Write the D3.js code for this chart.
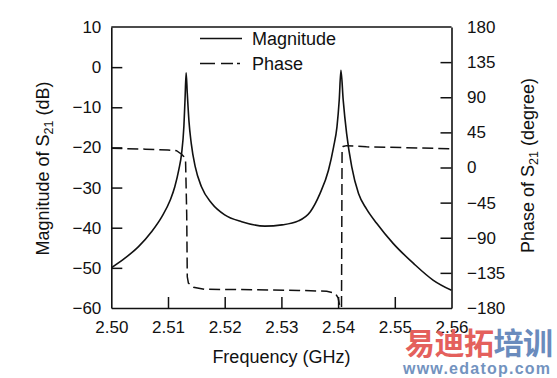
<!DOCTYPE html>
<html>
<head>
  <meta charset="utf-8">
  <title>S21 Magnitude and Phase</title>
  <script src="https://d3js.org/d3.v7.min.js"></script>
  <style>
    body { margin: 0; background: #fff; }
    text { font-family: "Liberation Sans", Arial, sans-serif; fill: #111; }
  </style>
</head>
<body>
  <div id="chart"></div>
  <script>
    // Magnitude of S21 (GHz, dB)
    var magFreq = [2.5000, 2.5024, 2.5048, 2.5071, 2.5089, 2.5104, 2.5112, 2.5119, 2.5124, 2.5128,
                   2.5130, 2.5132, 2.5134, 2.5137, 2.5141, 2.5148, 2.5159, 2.5177, 2.5200, 2.5230,
                   2.5271, 2.5301, 2.5330, 2.5351, 2.5368, 2.5383, 2.5392, 2.5398, 2.5402, 2.5405,
                   2.5409, 2.5415, 2.5424, 2.5436, 2.5450, 2.5468, 2.5497, 2.5533, 2.5568, 2.5600];
    var magDb = [-50.0, -47.6, -44.7, -41.0, -37.3, -33.1, -29.8, -25.6, -21.5, -14.8,
                 -8.2, -1.4, -6.5, -13.5, -19.0, -24.8, -29.8, -33.9, -36.8, -38.5,
                 -39.6, -39.3, -38.3, -36.0, -31.5, -25.7, -19.9, -14.9, -8.2, -0.8,
                 -8.2, -16.5, -24.8, -31.5, -35.3, -38.9, -43.9, -48.9, -53.1, -55.6];

    // Phase of S21 (GHz, degree)
    var phaseFreq = [2.5000, 2.5060, 2.5100, 2.5115, 2.5124, 2.5128, 2.5131, 2.5133, 2.5134, 2.5136,
                     2.5145, 2.5165, 2.5250, 2.5330, 2.5380, 2.5395, 2.5400, 2.5403, 2.5405, 2.5406,
                     2.5407, 2.5409, 2.5415, 2.5450, 2.5600];
    var phaseDeg = [24.6, 23.5, 22.5, 21.5, 17.0, 13.8, 8.0, -60.0, -140.0, -148.0,
                    -153.5, -156.0, -156.5, -157.5, -158.5, -161.0, -167.0, -178.0, -180.0, -180.0,
                    20.0, 27.0, 28.0, 26.5, 24.0];

    var xTicks = [2.50, 2.51, 2.52, 2.53, 2.54, 2.55, 2.56];
    var magTicks = [10, 0, -10, -20, -30, -40, -50, -60];
    var phaseTicks = [180, 135, 90, 45, 0, -45, -90, -135, -180];

    var svg = d3.select("#chart")
      .append("svg")
      .attr("width", 557)
      .attr("height", 378);

    var margin = {top: 27, right: 105.5, bottom: 70, left: 111.3};
    var width = 557 - margin.left - margin.right;
    var height = 378 - margin.top - margin.bottom;

    var x = d3.scaleLinear().domain([2.50, 2.56]).range([0, width]);
    var yMag = d3.scaleLinear().domain([-60, 10]).range([height, 0]);
    var yPhase = d3.scaleLinear().domain([-180, 180]).range([height, 0]);

    var g = svg.append("g")
      .attr("transform", "translate(" + margin.left + "," + margin.top + ")");

    // axes, ticks point into the plot
    var xAxis = g.append("g")
      .attr("transform", "translate(0," + height + ")")
      .call(d3.axisBottom(x).tickValues(xTicks).tickFormat(d3.format(".2f"))
        .tickSizeInner(-11).tickSizeOuter(0).tickPadding(13));

    var leftAxis = g.append("g")
      .call(d3.axisLeft(yMag).tickValues(magTicks).tickFormat(d3.format("d"))
        .tickSizeInner(-11).tickSizeOuter(0).tickPadding(10));

    var rightAxis = g.append("g")
      .attr("transform", "translate(" + width + ",0)")
      .call(d3.axisRight(yPhase).tickValues(phaseTicks).tickFormat(d3.format("d"))
        .tickSizeInner(-11).tickSizeOuter(0).tickPadding(15.5));

    [xAxis, leftAxis, rightAxis].forEach(function(a) {
      a.selectAll("text")
        .style("font-family", "'Liberation Sans', Arial, sans-serif")
        .style("font-size", "17px")
        .attr("fill", "#111");
      a.selectAll("line").attr("stroke", "#111").attr("stroke-width", 1.5);
      a.select(".domain").attr("stroke", "#111").attr("stroke-width", 1.6);
    });
    // no tick marks at the frame corners
    leftAxis.selectAll(".tick line").filter(function(d) { return d === 10 || d === -60; }).remove();
    rightAxis.selectAll(".tick line").filter(function(d) { return d === 180 || d === -180; }).remove();
    xAxis.selectAll(".tick line").filter(function(d) { return d === 2.50 || d === 2.56; }).remove();

    // top border of the frame
    g.append("line")
      .attr("x1", 0).attr("x2", width)
      .attr("y1", 0).attr("y2", 0)
      .attr("stroke", "#111")
      .attr("stroke-width", 1.6);

    // magnitude curve
    var magLine = d3.line()
      .x(function(d, i) { return x(magFreq[i]); })
      .y(function(d) { return yMag(d); })
      .curve(d3.curveMonotoneX);

    g.append("path")
      .datum(magDb)
      .attr("d", magLine)
      .attr("fill", "none")
      .attr("stroke", "#111")
      .attr("stroke-width", 1.6);

    // phase curve (dashed)
    var phaseLine = d3.line()
      .x(function(d, i) { return x(phaseFreq[i]); })
      .y(function(d) { return yPhase(d); });

    g.append("path")
      .datum(phaseDeg)
      .attr("d", phaseLine)
      .attr("fill", "none")
      .attr("stroke", "#111")
      .attr("stroke-width", 1.5)
      .attr("stroke-dasharray", "11,5");

    // legend
    svg.append("line")
      .attr("x1", 200).attr("x2", 242)
      .attr("y1", 38.5).attr("y2", 38.5)
      .attr("stroke", "#111").attr("stroke-width", 1.5);
    svg.append("text")
      .attr("x", 252).attr("y", 44.5)
      .style("font-size", "18px")
      .text("Magnitude");
    svg.append("line")
      .attr("x1", 200).attr("x2", 241)
      .attr("y1", 63.5).attr("y2", 63.5)
      .attr("stroke", "#111").attr("stroke-width", 1.5)
      .attr("stroke-dasharray", "15,6,12,4,3,100");
    svg.append("text")
      .attr("x", 252).attr("y", 69.5)
      .style("font-size", "18px")
      .text("Phase");

    // x-axis title
    svg.append("text")
      .attr("x", margin.left + width / 2)
      .attr("y", 363)
      .attr("text-anchor", "middle")
      .style("font-size", "18px")
      .text("Frequency (GHz)");

    // y-axis titles with subscript 21
    function sTitle(tx, ty, before, after) {
      var t = svg.append("text")
        .attr("transform", "translate(" + tx + "," + ty + ") rotate(-90)")
        .attr("text-anchor", "middle")
        .style("font-size", "18px");
      t.append("tspan").text(before);
      t.append("tspan").attr("dy", 4).style("font-size", "12.5px").text("21");
      t.append("tspan").attr("dy", -4).text(after);
    }
    sTitle(49, 168.5, "Magnitude of S", " (dB)");
    sTitle(534, 165.5, "Phase of S", " (degree)");

    // watermark
    var wm = svg.append("text")
      .attr("x", 405).attr("y", 354)
      .attr("textLength", 148)
      .style("font-family", "'Noto Sans CJK SC', sans-serif")
      .style("font-weight", "bold")
      .style("font-size", "30px");
    wm.append("tspan").style("fill", "#e4605c").text("易迪拓");
    wm.append("tspan").style("fill", "#6a8bbd").text("培训");
    svg.append("text")
      .attr("x", 403).attr("y", 373.5)
      .attr("textLength", 147)
      .style("font-weight", "bold")
      .style("font-size", "16px")
      .style("fill", "#7393bf")
      .text("www.edatop.com");
  </script>
</body>
</html>
